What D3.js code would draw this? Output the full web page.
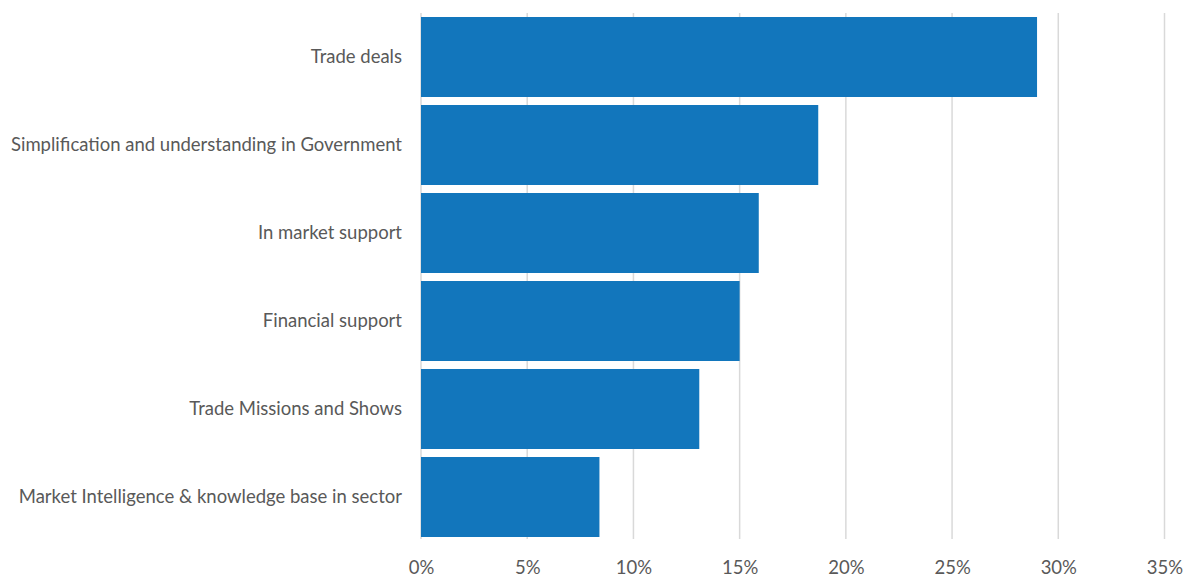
<!DOCTYPE html>
<html>
<head>
<meta charset="utf-8">
<script src="https://cdn.jsdelivr.net/npm/d3@7"></script>
<style>
  html, body { margin: 0; padding: 0; background: #fff; }
  svg { display: block; }
  text { font-family: Lato, "Open Sans", sans-serif; fill: #595959; }
</style>
</head>
<body>
<svg id="chart" width="1184" height="577"></svg>
<script>
// Share of respondents by type of support wanted
const categories = [
  "Trade deals",
  "Simplification and understanding in Government",
  "In market support",
  "Financial support",
  "Trade Missions and Shows",
  "Market Intelligence & knowledge base in sector"
];
const values = [0.290, 0.187, 0.159, 0.150, 0.131, 0.084];
const tickValues = [0, 0.05, 0.10, 0.15, 0.20, 0.25, 0.30, 0.35];

const margin = { top: 13, left: 421 };
const plotW = 1164.5 - margin.left;
const plotH = 528;

const svg = d3.select("#chart");
const g = svg.append("g").attr("transform", `translate(${margin.left},${margin.top})`);

const x = d3.scaleLinear().domain([0, 0.35]).range([0, plotW]);
const y = d3.scaleBand().domain(categories).range([0, plotH])
  .paddingInner(8 / 88).paddingOuter(4 / 88);

// vertical gridlines
g.selectAll("line.grid")
  .data(tickValues)
  .join("line")
  .attr("class", "grid")
  .attr("x1", d => x(d)).attr("x2", d => x(d))
  .attr("y1", 0).attr("y2", plotH - 2)
  .attr("stroke", "#d9d9d9")
  .attr("stroke-width", 1.5);

// bars
g.selectAll("rect.bar")
  .data(values)
  .join("rect")
  .attr("class", "bar")
  .attr("x", x(0))
  .attr("y", (d, i) => y(categories[i]))
  .attr("width", d => x(d) - x(0))
  .attr("height", y.bandwidth())
  .attr("fill", "#1276bc");

// category labels
const yAxis = d3.axisLeft(y).tickSize(0).tickPadding(19);
g.append("g").call(yAxis)
  .call(s => s.select(".domain").remove())
  .selectAll("text")
  .style("font-size", "18.5px")
  .attr("fill", "#595959");

// percentage ticks
const xAxis = d3.axisBottom(x).tickValues(tickValues).tickSize(0).tickPadding(20)
  .tickFormat(d3.format(".0%"));
g.append("g").attr("transform", `translate(0,${plotH})`).call(xAxis)
  .call(s => s.select(".domain").remove())
  .selectAll("text")
  .style("font-size", "18.5px")
  .attr("fill", "#595959");
</script>
</body>
</html>
